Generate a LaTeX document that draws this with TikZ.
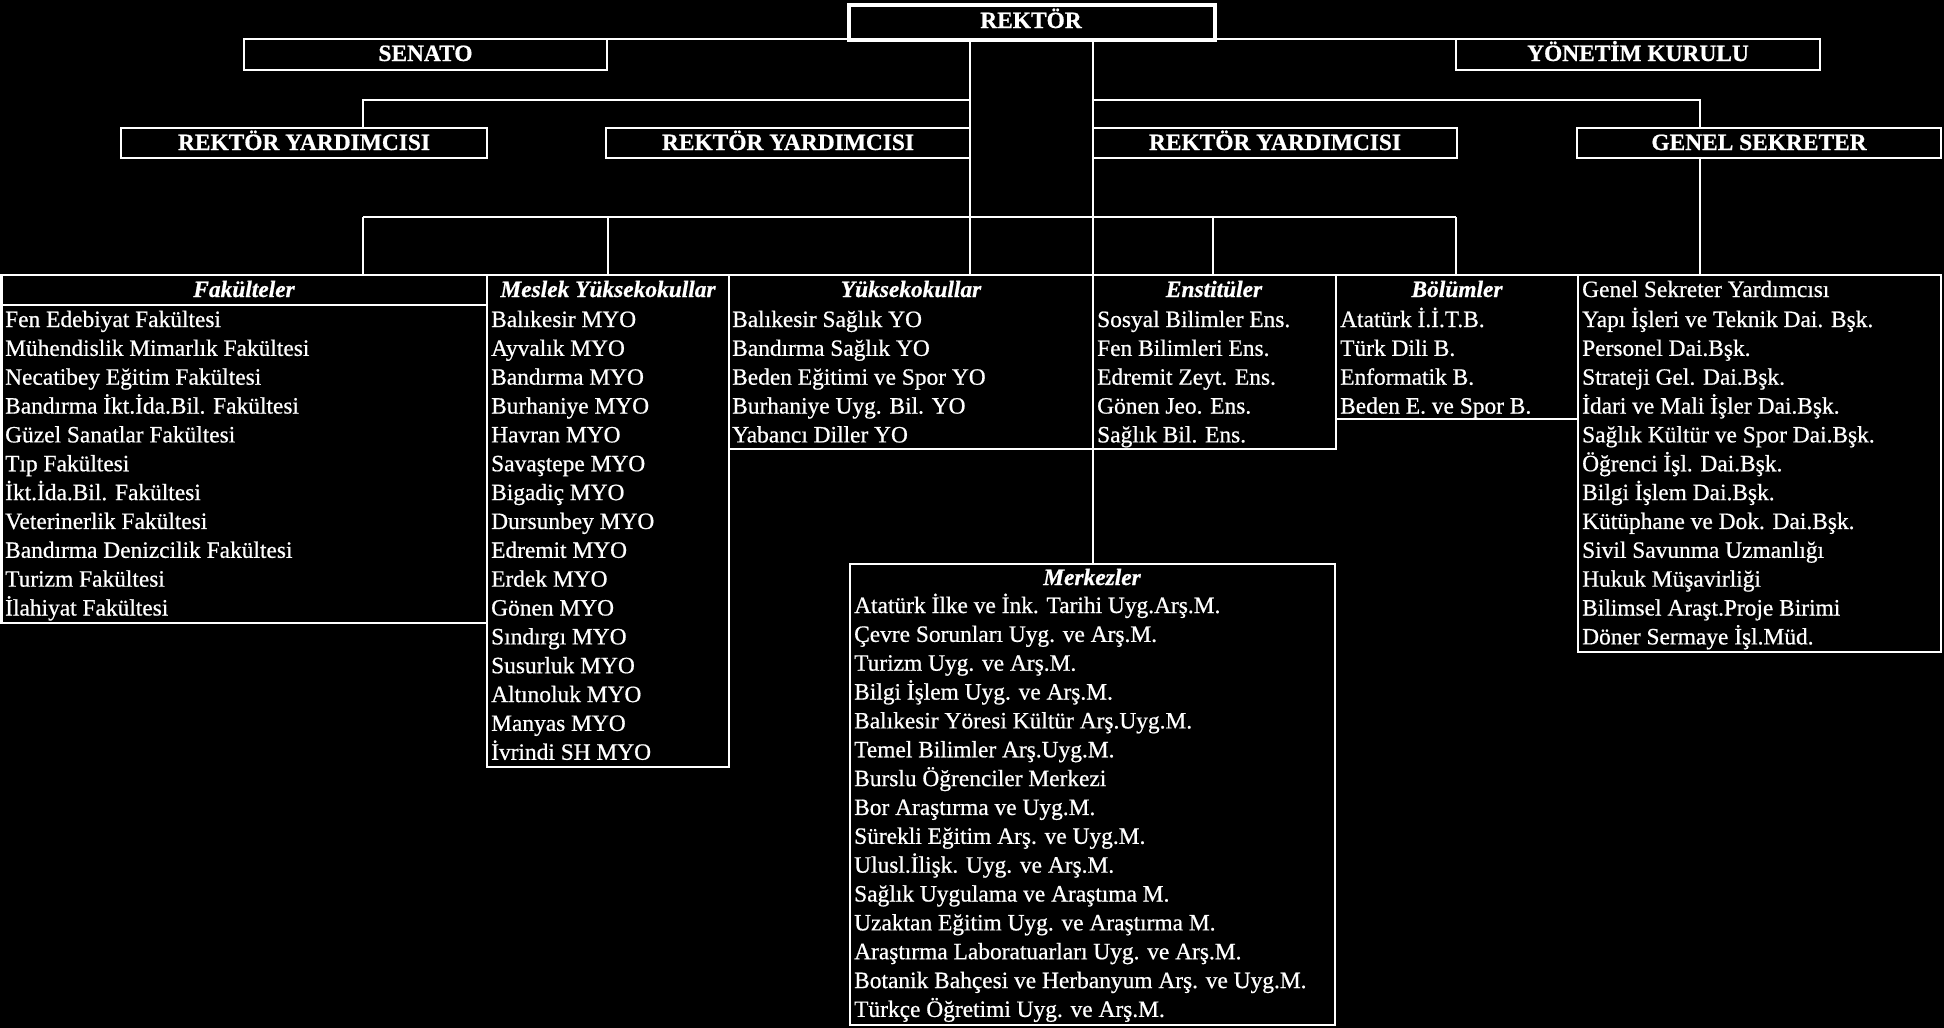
\documentclass[tikz,border=0pt]{standalone}
\usepackage{fontspec}
\setmainfont{Liberation Serif}[FakeBold=0.7]
\usetikzlibrary{fit}
\begin{document}
\begin{tikzpicture}[x=1pt,y=-1pt,
  conn/.style={draw=white, line width=2.6pt},
  box/.style={draw=white, line width=2.6pt, rectangle, inner sep=0pt, outer sep=0pt},
  titletext/.style={text=white, font=\fontsize{23.4}{28}\selectfont\bfseries, anchor=base, inner sep=0pt},
  headtext/.style={text=white, font=\fontsize{23.4}{28}\selectfont\bfseries\itshape, anchor=base, inner sep=0pt},
  itemtext/.style={text=white, font=\fontsize{23.4}{28}\selectfont, anchor=base west, inner sep=0pt},
]
\fill[black] (0,0) rectangle (1944,1028);
\useasboundingbox (0,0) rectangle (1944,1028);

% top level
\node[box, line width=4pt, fit={(849,5) (1215,40)}] (rektor) {};
\node[titletext] (rektorT) at (1031,28) {REKTÖR};
\node[box, fit={(244,39) (607,70)}] (senato) {};
\node[titletext] (senatoT) at (425.5,61) {SENATO};
\node[box, fit={(1456,39) (1820,70)}] (yk) {};
\node[titletext] (ykT) at (1638,61) {YÖNETİM KURULU};

\node[box, fit={(121,128) (487,158)}] (ry1) {};
\node[titletext] (ry1T) at (304,150) {REKTÖR YARDIMCISI};
\node[box, fit={(606,128) (970,158)}] (ry2) {};
\node[titletext] (ry2T) at (788,150) {REKTÖR YARDIMCISI};
\node[box, fit={(1093,128) (1457,158)}] (ry3) {};
\node[titletext] (ry3T) at (1275,150) {REKTÖR YARDIMCISI};
\node[box, fit={(1577,128) (1941,158)}] (gs) {};
\node[titletext] (gsT) at (1759,150) {GENEL SEKRETER};

% level 3 boxes
\node[box, fit={(1.5,275) (487,623)}] (fak) {};
\node[box, fit={(487,275) (729,767)}] (myo) {};
\node[box, fit={(729,275) (1093,449)}] (yo) {};
\node[box, fit={(1093,275) (1336,449)}] (ens) {};
\node[box, fit={(1336,275) (1578,419)}] (bol) {};
\node[box, fit={(1578,275) (1941,652)}] (gsl) {};
\node[box, fit={(850,564) (1335,1025)}] (mrk) {};

% coordinates for connector lines
\coordinate (lv1) at (0,100);
\coordinate (lv2) at (0,217);
\coordinate (xa) at (363,0);
\coordinate (xb) at (608,0);
\coordinate (xc) at (970,0);
\coordinate (xd) at (1093,0);
\coordinate (xe) at (1213,0);
\coordinate (xf) at (1456,0);
\coordinate (xg) at (1700,0);

% connectors
\draw[conn] (senato.north east) -- (yk.north west);
\draw[conn] (rektor.south -| xc) -- (xc |- lv2);
\draw[conn] (rektor.south -| xd) -- (xd |- lv2);
\draw[conn] (xc |- lv1) -| (ry1.north -| xa);
\draw[conn] (xd |- lv1) -| (gs.north -| xg);
\draw[conn] (xa |- lv2) -- (xf |- lv2);
\draw[conn] (xa |- lv2) -- (fak.north -| xa);
\draw[conn] (xb |- lv2) -- (myo.north -| xb);
\draw[conn] (xc |- lv2) -- (yo.north -| xc);
\draw[conn] (xd |- lv2) -- (ens.north -| xd);
\draw[conn] (xe |- lv2) -- (ens.north -| xe);
\draw[conn] (xf |- lv2) -- (bol.north -| xf);
\draw[conn] (gs.south -| xg) -- (gsl.north -| xg);
\draw[conn] (yo.south east) -- (mrk.north -| yo.east);
\draw[conn] ([yshift=-30pt]fak.north west) -- ([yshift=-30pt]fak.north east);

% headers
\node[headtext] (fakH) at (244,297) {Fakülteler};
\node[headtext] (myoH) at (608,297) {Meslek Yüksekokullar};
\node[headtext] (yoH) at (911,297) {Yüksekokullar};
\node[headtext] (ensH) at (1214,297) {Enstitüler};
\node[headtext] (bolH) at (1457,297) {Bölümler};
\node[headtext] (mrkH) at (1092,585) {Merkezler};
\node[itemtext] (gsl0) at (1582,297) {Genel Sekreter Yardımcısı};

% lists
\foreach \t [count=\i] in {Fen Edebiyat Fakültesi, Mühendislik Mimarlık Fakültesi, Necatibey Eğitim Fakültesi, Bandırma İkt.İda.Bil. Fakültesi, Güzel Sanatlar Fakültesi, Tıp Fakültesi, İkt.İda.Bil. Fakültesi, Veterinerlik Fakültesi, Bandırma Denizcilik Fakültesi, Turizm Fakültesi, İlahiyat Fakültesi}
  \node[itemtext] (fak\i) at (5,{327+28.85*(\i-1)}) {\t};

\foreach \t [count=\i] in {Balıkesir MYO, Ayvalık MYO, Bandırma MYO, Burhaniye MYO, Havran MYO, Savaştepe MYO, Bigadiç MYO, Dursunbey MYO, Edremit MYO, Erdek MYO, Gönen MYO, Sındırgı MYO, Susurluk MYO, Altınoluk MYO, Manyas MYO, İvrindi SH MYO}
  \node[itemtext] (myo\i) at (491,{327+28.85*(\i-1)}) {\t};

\foreach \t [count=\i] in {Balıkesir Sağlık YO, Bandırma Sağlık YO, Beden Eğitimi ve Spor YO, Burhaniye Uyg. Bil. YO, Yabancı Diller YO}
  \node[itemtext] (yo\i) at (732,{327+28.85*(\i-1)}) {\t};

\foreach \t [count=\i] in {Sosyal Bilimler Ens., Fen Bilimleri Ens., Edremit Zeyt. Ens., Gönen Jeo. Ens., Sağlık Bil. Ens.}
  \node[itemtext] (ens\i) at (1097,{327+28.85*(\i-1)}) {\t};

\foreach \t [count=\i] in {Atatürk İ.İ.T.B., Türk Dili B., Enformatik B., Beden E. ve Spor B.}
  \node[itemtext] (bol\i) at (1340,{327+28.85*(\i-1)}) {\t};

\foreach \t [count=\i] in {Yapı İşleri ve Teknik Dai. Bşk., Personel Dai.Bşk., Strateji Gel. Dai.Bşk., İdari ve Mali İşler Dai.Bşk., Sağlık Kültür ve Spor Dai.Bşk., Öğrenci İşl. Dai.Bşk., Bilgi İşlem Dai.Bşk., Kütüphane ve Dok. Dai.Bşk., Sivil Savunma Uzmanlığı, Hukuk Müşavirliği, Bilimsel Araşt.Proje Birimi, Döner Sermaye İşl.Müd.}
  \node[itemtext] (gsl\i) at (1582,{327+28.85*(\i-1)}) {\t};

\foreach \t [count=\i] in {Atatürk İlke ve İnk. Tarihi Uyg.Arş.M., Çevre Sorunları Uyg. ve Arş.M., Turizm Uyg. ve Arş.M., Bilgi İşlem Uyg. ve Arş.M., Balıkesir Yöresi Kültür Arş.Uyg.M., Temel Bilimler Arş.Uyg.M., Burslu Öğrenciler Merkezi, Bor Araştırma ve Uyg.M., Sürekli Eğitim Arş. ve Uyg.M., Ulusl.İlişk. Uyg. ve Arş.M., Sağlık Uygulama ve Araştıma M., Uzaktan Eğitim Uyg. ve Araştırma M., Araştırma Laboratuarları Uyg. ve Arş.M., Botanik Bahçesi ve Herbanyum Arş. ve Uyg.M., Türkçe Öğretimi Uyg. ve Arş.M.}
  \node[itemtext] (mrk\i) at (854,{613+28.85*(\i-1)}) {\t};
\end{tikzpicture}
\end{document}
